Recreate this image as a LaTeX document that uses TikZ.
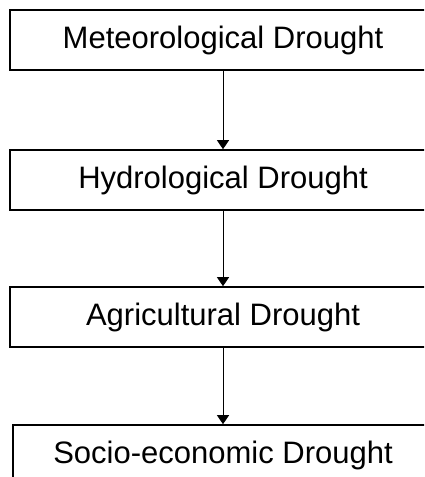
\documentclass[tikz,border=0pt]{standalone}
\usepackage{fontspec}
\setmainfont{Liberation Sans}
\usetikzlibrary{arrows.meta}
\begin{document}
\begin{tikzpicture}[x=1pt,y=1pt,
  stagebox/.style={draw=black, line width=1.6pt, fill=white, minimum width=426pt, minimum height=60pt,
    inner sep=0pt, font=\fontsize{31}{36}\selectfont, text=black},
  flowarrow/.style={draw=black, line width=1pt, -{Triangle[width=12pt,length=9pt]}}]
\clip (0,0) rectangle (424,-477);
\fill[white] (0,0) rectangle (424,-477);
\node[stagebox] (met) at (223,-40) {Meteorological Drought};
\node[stagebox] (hyd) at (223,-180) {Hydrological Drought};
\node[stagebox] (agr) at (223,-317) {Agricultural Drought};
\node[stagebox, minimum width=420pt] (soc) at (223,-455) {Socio-economic Drought};
\draw[flowarrow] (met.south) -- (hyd.north);
\draw[flowarrow] (hyd.south) -- (agr.north);
\draw[flowarrow] (agr.south) -- (soc.north);
\end{tikzpicture}
\end{document}
